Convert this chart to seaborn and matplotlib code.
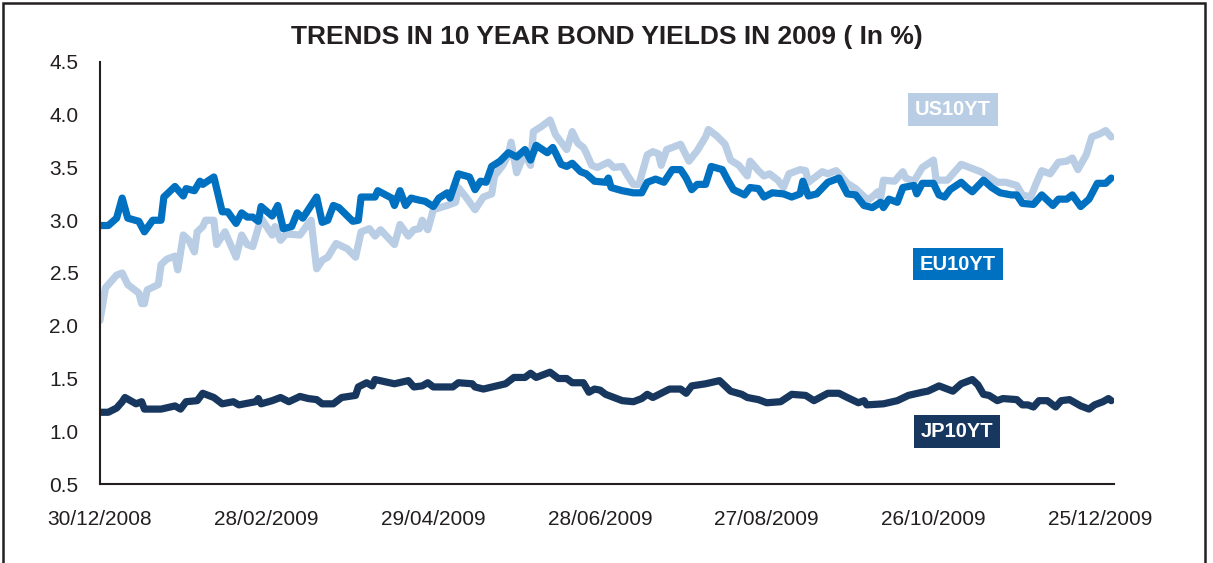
import matplotlib
matplotlib.use("Agg")
import matplotlib.pyplot as plt
import matplotlib.dates as mdates
from matplotlib.patches import Rectangle
import pandas as pd
import seaborn as sns

# ---------------- data (days since 30/12/2008, yield in %) ----------------
start_date = "2008-12-30"

us_days = [0, 2, 6, 8, 10, 14, 15, 16, 17, 21,
           22, 24, 27, 28, 30, 32, 34, 35, 37, 38,
           41, 42, 45, 49, 51, 53, 55, 58, 62, 63,
           65, 67, 72, 75, 76, 78, 80, 82, 85, 89,
           92, 94, 97, 99, 101, 106, 108, 111, 113, 115,
           116, 118, 120, 125, 128, 129, 132, 135, 138, 141,
           142, 145, 147, 148, 150, 152, 153, 155, 156, 159,
           162, 164, 166, 168, 170, 172, 174, 175, 177, 179,
           183, 185, 188, 190, 192, 194, 197, 199, 201, 202,
           204, 209, 212, 215, 218, 219, 222, 225, 227, 230,
           233, 234, 237, 239, 241, 244, 246, 248, 252, 254,
           255, 260, 262, 265, 269, 272, 276, 277, 280, 281,
           282, 286, 289, 290, 293, 296, 300, 301, 305, 308,
           310, 313, 317, 320, 323, 326, 330, 332, 335, 337,
           339, 342, 345, 348, 350, 352, 355, 357, 360, 362,
           364]
us_vals = [2.05, 2.36, 2.48, 2.50, 2.39, 2.31, 2.21, 2.21, 2.34, 2.39,
           2.58, 2.63, 2.66, 2.53, 2.86, 2.81, 2.70, 2.89, 2.94, 3.00,
           3.00, 2.77, 2.89, 2.65, 2.86, 2.77, 2.75, 3.02, 2.86, 2.94,
           2.81, 2.87, 2.86, 2.97, 3.00, 2.54, 2.62, 2.65, 2.78, 2.73,
           2.65, 2.89, 2.92, 2.85, 2.91, 2.77, 2.96, 2.85, 2.91, 2.92,
           3.00, 2.91, 3.10, 3.14, 3.17, 3.31, 3.21, 3.10, 3.22, 3.25,
           3.42, 3.52, 3.62, 3.74, 3.45, 3.58, 3.62, 3.52, 3.84, 3.89,
           3.95, 3.81, 3.74, 3.67, 3.84, 3.73, 3.69, 3.64, 3.52, 3.50,
           3.55, 3.50, 3.51, 3.42, 3.34, 3.34, 3.62, 3.65, 3.63, 3.52,
           3.67, 3.72, 3.56, 3.66, 3.79, 3.86, 3.80, 3.72, 3.57, 3.52,
           3.42, 3.56, 3.47, 3.42, 3.44, 3.38, 3.31, 3.44, 3.48, 3.47,
           3.36, 3.46, 3.44, 3.47, 3.35, 3.30, 3.20, 3.20, 3.27, 3.21,
           3.38, 3.37, 3.46, 3.40, 3.37, 3.50, 3.57, 3.38, 3.38, 3.47,
           3.53, 3.50, 3.46, 3.41, 3.36, 3.36, 3.33, 3.24, 3.22, 3.35,
           3.47, 3.44, 3.55, 3.56, 3.59, 3.48, 3.62, 3.79, 3.82, 3.85,
           3.79]

eu_days = [0, 3, 6, 8, 10, 14, 16, 19, 22, 23,
           27, 30, 31, 34, 36, 37, 41, 44, 46, 49,
           51, 53, 55, 57, 58, 62, 64, 66, 69, 71,
           73, 78, 80, 82, 84, 86, 91, 93, 94, 99,
           100, 105, 106, 108, 110, 112, 115, 117, 120, 122,
           125, 126, 129, 133, 135, 137, 139, 141, 144, 147,
           150, 153, 155, 157, 161, 163, 166, 168, 170, 173,
           175, 178, 182, 183, 184, 188, 192, 195, 197, 200,
           203, 206, 209, 211, 213, 215, 218, 220, 224, 226,
           228, 232, 234, 237, 239, 242, 246, 249, 252, 253,
           255, 258, 262, 266, 269, 272, 275, 278, 281, 282,
           284, 287, 289, 293, 294, 296, 300, 302, 304, 306,
           310, 312, 314, 318, 321, 324, 328, 330, 332, 336,
           339, 343, 345, 348, 350, 353, 356, 359, 362, 364]
eu_vals = [2.95, 2.95, 3.02, 3.21, 3.02, 2.99, 2.89, 3.00, 3.00, 3.22,
           3.32, 3.23, 3.30, 3.28, 3.37, 3.34, 3.41, 3.08, 3.08, 2.97,
           3.07, 3.03, 3.03, 2.99, 3.13, 3.04, 3.14, 2.92, 2.94, 3.07,
           3.02, 3.22, 2.98, 3.00, 3.14, 3.12, 2.99, 3.00, 3.22, 3.22,
           3.28, 3.21, 3.14, 3.28, 3.14, 3.21, 3.19, 3.18, 3.13, 3.21,
           3.26, 3.21, 3.44, 3.41, 3.29, 3.37, 3.36, 3.51, 3.56, 3.64,
           3.60, 3.67, 3.57, 3.71, 3.64, 3.69, 3.53, 3.51, 3.54, 3.46,
           3.44, 3.37, 3.36, 3.40, 3.31, 3.28, 3.26, 3.26, 3.36, 3.39,
           3.36, 3.48, 3.48, 3.40, 3.29, 3.34, 3.34, 3.51, 3.48, 3.38,
           3.29, 3.24, 3.31, 3.30, 3.22, 3.26, 3.25, 3.22, 3.25, 3.37,
           3.23, 3.25, 3.36, 3.40, 3.25, 3.24, 3.14, 3.12, 3.17, 3.12,
           3.20, 3.17, 3.31, 3.33, 3.25, 3.35, 3.35, 3.24, 3.22, 3.29,
           3.36, 3.31, 3.27, 3.38, 3.31, 3.26, 3.24, 3.24, 3.16, 3.15,
           3.24, 3.14, 3.20, 3.20, 3.24, 3.13, 3.20, 3.35, 3.35, 3.40]

jp_days = [0, 3, 6, 8, 9, 13, 15, 16, 22, 27,
           29, 31, 35, 37, 41, 44, 48, 50, 56, 57,
           58, 62, 65, 68, 72, 75, 78, 80, 84, 87,
           92, 93, 96, 98, 99, 106, 111, 113, 116, 118,
           120, 127, 129, 134, 135, 138, 146, 149, 153, 155,
           157, 162, 165, 168, 170, 174, 176, 178, 180, 182,
           183, 188, 192, 195, 197, 199, 205, 209, 211, 213,
           218, 223, 227, 231, 233, 237, 240, 245, 249, 254,
           257, 262, 266, 269, 273, 275, 276, 282, 287, 291,
           296, 298, 302, 307, 310, 314, 316, 318, 320, 323,
           325, 330, 332, 334, 336, 338, 341, 344, 346, 349,
           353, 356, 358, 361, 363, 364]
jp_vals = [1.18, 1.18, 1.22, 1.28, 1.32, 1.26, 1.28, 1.21, 1.21, 1.24,
           1.21, 1.28, 1.29, 1.36, 1.32, 1.26, 1.28, 1.25, 1.28, 1.31,
           1.26, 1.29, 1.32, 1.28, 1.33, 1.31, 1.30, 1.26, 1.26, 1.32,
           1.34, 1.42, 1.46, 1.43, 1.49, 1.45, 1.48, 1.42, 1.43, 1.46,
           1.42, 1.42, 1.46, 1.45, 1.42, 1.40, 1.45, 1.51, 1.51, 1.55,
           1.51, 1.56, 1.50, 1.50, 1.46, 1.46, 1.37, 1.40, 1.39, 1.35,
           1.34, 1.29, 1.28, 1.31, 1.35, 1.32, 1.40, 1.40, 1.36, 1.43,
           1.45, 1.48, 1.38, 1.35, 1.32, 1.30, 1.27, 1.28, 1.35, 1.34,
           1.29, 1.36, 1.36, 1.32, 1.27, 1.29, 1.25, 1.26, 1.29, 1.34,
           1.37, 1.38, 1.43, 1.38, 1.45, 1.49, 1.44, 1.35, 1.34, 1.29,
           1.31, 1.30, 1.25, 1.25, 1.23, 1.29, 1.29, 1.23, 1.29, 1.30,
           1.24, 1.21, 1.25, 1.28, 1.31, 1.29]

series_names = ["US10YT", "EU10YT", "JP10YT"]
series_colors = ["#B9CDE5", "#0070C0", "#17375E"]
x_tick_days = [0, 60, 120, 180, 240, 300, 360]
y_ticks = [0.5, 1.0, 1.5, 2.0, 2.5, 3.0, 3.5, 4.0, 4.5]
title = "TRENDS IN 10 YEAR BOND YIELDS IN 2009 ( In %)"

# ---------------- build dataframe ----------------
t0 = pd.Timestamp(start_date)
frames = []
for name, days, vals in zip(series_names,
                            [us_days, eu_days, jp_days],
                            [us_vals, eu_vals, jp_vals]):
    frames.append(pd.DataFrame({
        "date": t0 + pd.to_timedelta(days, unit="D"),
        "yield": vals,
        "series": name,
    }))
df = pd.concat(frames, ignore_index=True)

# ---------------- style ----------------
sns.set_theme(style="white")
plt.rcParams["font.family"] = ["Liberation Sans", "DejaVu Sans"]
text_color = "#231F20"

fig = plt.figure(figsize=(12.13, 5.63), dpi=100)
ax = fig.add_axes([0.0824, 0.1403, 0.8360, 0.7496])

sns.lineplot(data=df, x="date", y="yield", hue="series",
             hue_order=series_names, palette=series_colors,
             linewidth=5.2, legend=False, sort=False, ax=ax,
             solid_capstyle="round", solid_joinstyle="round")

# axes
ax.set_xlim(t0, t0 + pd.Timedelta(days=365))
ax.set_ylim(0.5, 4.5)
ax.set_yticks(y_ticks)
ax.set_yticklabels([f"{v:.1f}" for v in y_ticks])
ax.set_xticks([t0 + pd.Timedelta(days=d) for d in x_tick_days])
ax.xaxis.set_major_formatter(mdates.DateFormatter("%d/%m/%Y"))
ax.set_xlabel("")
ax.set_ylabel("")

for side in ["top", "right"]:
    ax.spines[side].set_visible(False)
for side in ["left", "bottom"]:
    ax.spines[side].set_visible(True)
    ax.spines[side].set_color(text_color)
    ax.spines[side].set_linewidth(1.5)

ax.tick_params(axis="both", which="major", labelsize=15, colors=text_color,
               length=4.5, width=1.5, direction="out")
ax.tick_params(axis="y", pad=11)
ax.tick_params(axis="x", pad=14)
ax.grid(False)

# title
fig.text(0.5, 0.934, title, ha="center", va="center", fontsize=19,
         fontweight="bold", color=text_color)

# series labels in coloured boxes
label_pos = {"US10YT": (0.841, 0.888), "EU10YT": (0.846, 0.521),
             "JP10YT": (0.845, 0.125)}
for name, col in zip(series_names, series_colors):
    x, y = label_pos[name]
    ax.text(x, y, name, transform=ax.transAxes, ha="center", va="center",
            fontsize=14.5, fontweight="bold", color="white",
            bbox=dict(boxstyle="square,pad=0.34", facecolor=col,
                      edgecolor="none"))

# outer frame
fig.patches.append(Rectangle((2.5 / 1213, -0.05), (1205 - 2.5) / 1213, 1.05 - 3 / 563,
                             transform=fig.transFigure, fill=False,
                             edgecolor=text_color, linewidth=1.8))

fig.savefig("out.png", dpi=100, facecolor="white")
